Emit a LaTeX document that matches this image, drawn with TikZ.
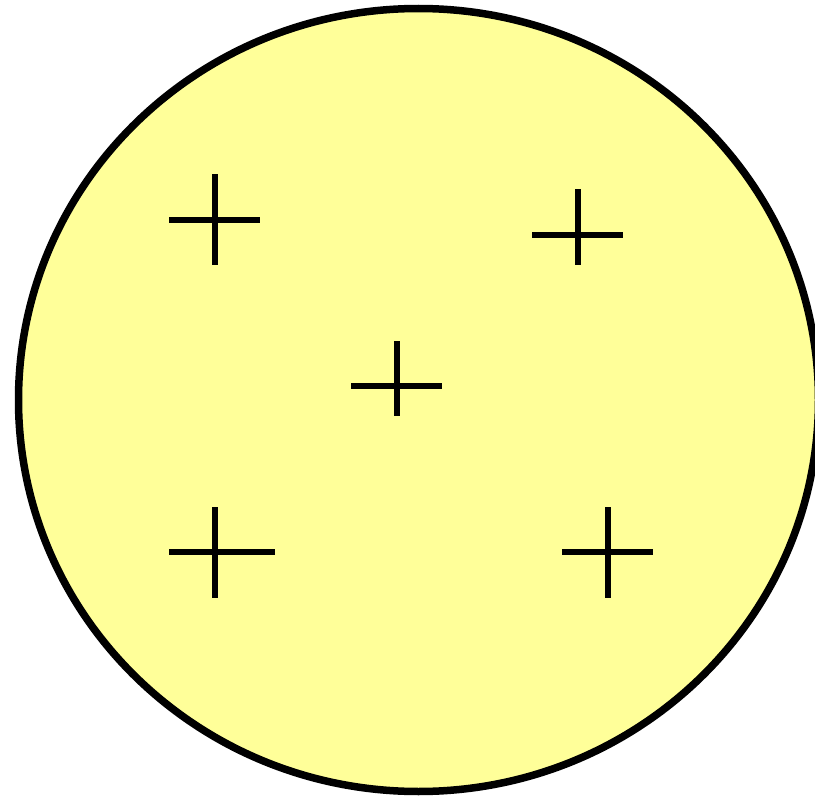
\documentclass[tikz,border=0pt]{standalone}
\definecolor{paleyellow}{HTML}{FFFF99}
\begin{document}
\begin{tikzpicture}[x=1pt,y=-1pt,
  outline/.style={draw=black,line width=7.5pt,fill=paleyellow},
  crossline/.style={draw=black,line width=6pt}]
\useasboundingbox (0,0) rectangle (815,800);
\path[outline] (418.5,400) ellipse [x radius=400, y radius=391.5];
% plus signs
\draw[crossline] (169,220) -- (260,220) (214.5,174) -- (214.5,265);
\draw[crossline] (532,235) -- (623,235) (577.5,189) -- (577.5,265);
\draw[crossline] (351,386) -- (442,386) (396.5,341) -- (396.5,416);
\draw[crossline] (169,552) -- (275,552) (214.5,507) -- (214.5,598);
\draw[crossline] (562,552) -- (653,552) (608,507) -- (608,598);
\end{tikzpicture}
\end{document}
